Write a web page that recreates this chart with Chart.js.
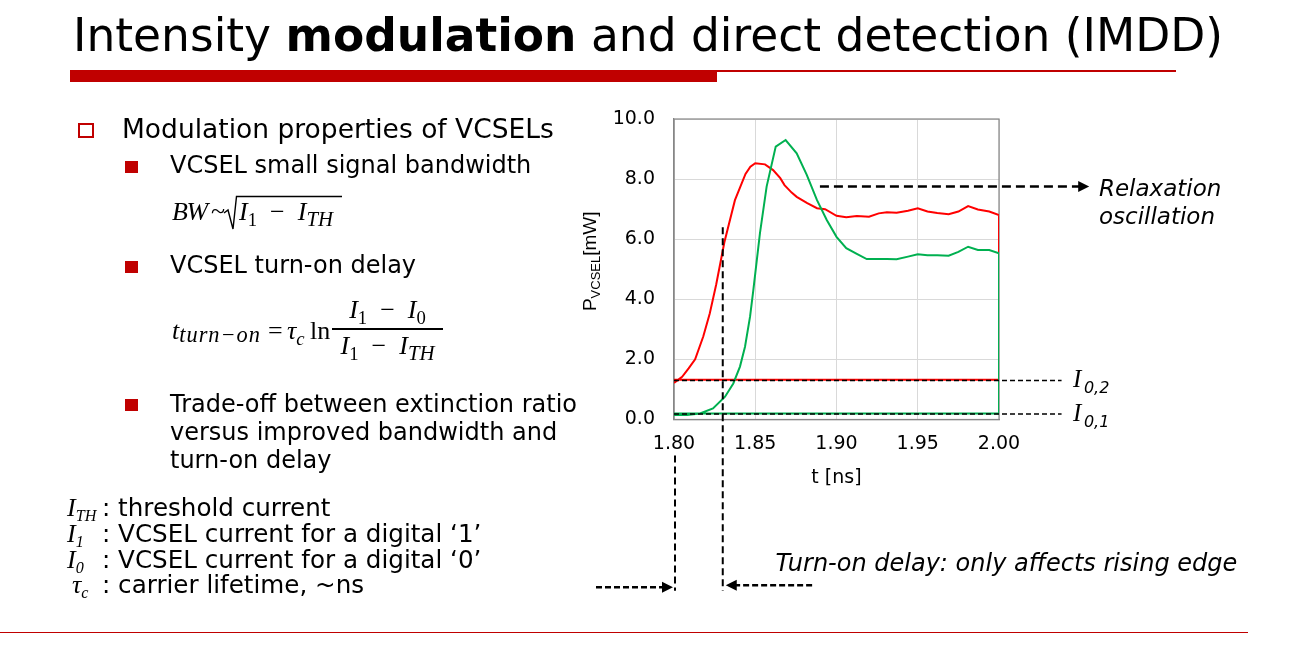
<!DOCTYPE html>
<html>
<head>
<meta charset="utf-8">
<title>Intensity modulation and direct detection (IMDD)</title>
<script src="https://cdn.jsdelivr.net/npm/chart.js@4.4.1/dist/chart.umd.min.js"></script>
<style>
  body { margin: 0; background: #fff; overflow: hidden; }
  #slide { position: relative; width: 1306px; height: 667px; font-family: "DejaVu Sans", Verdana, sans-serif; color: #000; }
  #chart { position: absolute; left: 0; top: 0; }
  .txt { position: absolute; white-space: nowrap; line-height: 1; }
  .m { font-family: "Liberation Serif", "Times New Roman", serif; font-style: italic; }
  .up { font-style: normal; }
  .sub { position: relative; top: 0.3em; font-size: 0.72em; }
  .op { margin: 0 0.5em; font-style: normal; }
  .bar { position: absolute; background: #c00000; }
  .sq { position: absolute; background: #c00000; width: 13px; height: 12px; }
</style>
</head>
<body>
<div id="slide">
  <canvas id="chart" width="1306" height="667"></canvas>

  <div class="txt" style="left:73px; top:13px; font-size:45.5px;">Intensity <b>modulation</b> and direct detection (IMDD)</div>
  <div class="bar" style="left:70px; top:70px; width:647px; height:12px;"></div>
  <div class="bar" style="left:717px; top:70px; width:459px; height:2px;"></div>
  <div class="bar" style="left:0; top:632px; width:1248px; height:1px;"></div>

  <div style="position:absolute; left:78px; top:123px; width:16px; height:15px; border:2px solid #c00000; box-sizing:border-box;"></div>
  <div class="txt" style="left:122px; top:116px; font-size:26.5px;">Modulation properties of VCSELs</div>

  <div class="sq" style="left:125px; top:161px;"></div>
  <div class="txt" style="left:170px; top:153px; font-size:24px;">VCSEL small signal bandwidth</div>

  <!-- BW ~ sqrt(I1 - ITH) -->
  <div class="txt m" style="left:172px; top:199px; font-size:26px; letter-spacing:-1.5px;">BW</div>
  <div class="txt m up" style="left:211px; top:198px; font-size:26px;">~</div>
  <svg style="position:absolute; left:0; top:0;" width="400" height="260">
    <polyline points="224,213 228,210 233,229 236.5,196.5 342,196.5" fill="none" stroke="#000" stroke-width="1.4"/>
  </svg>
  <div class="txt m" style="left:239px; top:199px; font-size:26px;">I<span class="sub up">1</span><span class="op">−</span>I<span class="sub" style="font-size:0.8em;">TH</span></div>

  <div class="sq" style="left:125px; top:261px;"></div>
  <div class="txt" style="left:170px; top:253px; font-size:24px;">VCSEL turn-on delay</div>

  <!-- t_turn-on = tau_c ln (I1 - I0)/(I1 - ITH) -->
  <div class="txt m" style="left:172px; top:318px; font-size:26px;">t<span style="position:relative; top:0.12em; font-size:0.86em; letter-spacing:1px;">turn−on</span></div>
  <div class="txt m up" style="left:268px; top:318px; font-size:26px;">=</div>
  <div class="txt m" style="left:287px; top:318px; font-size:26px;">τ<span class="sub">c</span></div>
  <div class="txt m up" style="left:310px; top:318px; font-size:26px;">ln</div>
  <div class="txt m" style="left:332px; top:297px; width:111px; text-align:center; font-size:26px;">I<span class="sub up">1</span><span class="op">−</span>I<span class="sub up">0</span></div>
  <div style="position:absolute; left:332px; top:328px; width:111px; height:1.5px; background:#000;"></div>
  <div class="txt m" style="left:332px; top:333px; width:111px; text-align:center; font-size:26px;">I<span class="sub up">1</span><span class="op">−</span>I<span class="sub" style="font-size:0.8em;">TH</span></div>

  <div class="sq" style="left:125px; top:399px;"></div>
  <div class="txt" style="left:170px; top:390px; font-size:24px; line-height:28px;">Trade-off between extinction ratio<br>versus improved bandwidth and<br>turn-on delay</div>

  <div class="txt m" style="left:67px; top:495px; font-size:26px;">I<span class="sub" style="font-size:0.62em;">TH</span></div>
  <div class="txt" style="left:102px; top:496px; font-size:24.6px;">: threshold current</div>
  <div class="txt m" style="left:67px; top:521px; font-size:26px;">I<span class="sub" style="font-size:0.62em;">1</span></div>
  <div class="txt" style="left:102px; top:522px; font-size:24.6px;">: VCSEL current for a digital ‘1’</div>
  <div class="txt m" style="left:67px; top:547px; font-size:26px;">I<span class="sub" style="font-size:0.62em;">0</span></div>
  <div class="txt" style="left:102px; top:548px; font-size:24.6px;">: VCSEL current for a digital ‘0’</div>
  <div class="txt m" style="left:72px; top:572px; font-size:26px;">τ<span class="sub" style="font-size:0.62em;">c</span></div>
  <div class="txt" style="left:102px; top:573px; font-size:24.6px;">: carrier lifetime, ~ns</div>
</div>

<script>
// optical power P_VCSEL [mW] vs time t [ns]
// red: higher "0" level (I0,2), green: lower "0" level (I0,1)
const tRed = [1.800, 1.805, 1.809, 1.813, 1.818, 1.822, 1.826, 1.831, 1.8375, 1.844, 1.847, 1.850, 1.856, 1.861, 1.8654, 1.868, 1.8724, 1.8755, 1.882, 1.888, 1.893, 1.900, 1.906, 1.9125, 1.920, 1.926, 1.931, 1.937, 1.944, 1.950, 1.956, 1.962, 1.969, 1.975, 1.981, 1.987, 1.994, 2.000, 2.000, 1.800];
const pRed = [1.22, 1.42, 1.70, 2.00, 2.76, 3.53, 4.50, 5.90, 7.30, 8.17, 8.41, 8.53, 8.49, 8.30, 8.03, 7.80, 7.55, 7.41, 7.20, 7.03, 7.00, 6.78, 6.73, 6.77, 6.75, 6.86, 6.90, 6.88, 6.95, 7.03, 6.92, 6.87, 6.83, 6.92, 7.10, 6.99, 6.92, 6.80, 1.32, 1.32];

const tGreen = [1.800, 1.808, 1.816, 1.824, 1.8314, 1.8365, 1.8406, 1.8437, 1.8468, 1.8488, 1.8529, 1.857, 1.8626, 1.8687, 1.8755, 1.8817, 1.888, 1.894, 1.900, 1.906, 1.9125, 1.9186, 1.925, 1.931, 1.937, 1.944, 1.950, 1.956, 1.962, 1.969, 1.975, 1.981, 1.987, 1.994, 2.000, 2.000, 1.800];
const pGreen = [0.15, 0.15, 0.20, 0.37, 0.76, 1.20, 1.76, 2.42, 3.42, 4.30, 6.20, 7.75, 9.08, 9.30, 8.86, 8.14, 7.30, 6.64, 6.08, 5.70, 5.51, 5.34, 5.34, 5.34, 5.33, 5.42, 5.50, 5.47, 5.47, 5.45, 5.58, 5.75, 5.64, 5.64, 5.53, 0.20, 0.20];

const xTicks = [1.80, 1.85, 1.90, 1.95, 2.00];
const yTicks = [0, 2, 4, 6, 8, 10];

// annotation levels (data units)
const levelI02 = 1.30;
const levelI01 = 0.18;
const levelRelax = 7.75;
const tStart = 1.80;
const tTurnOn = 1.83;

Chart.defaults.font.family = '"DejaVu Sans", Verdana, sans-serif';
Chart.defaults.color = '#000';

function toPoints(ts, ps) {
  return ts.map((t, i) => ({ x: t, y: ps[i] }));
}

function dashLine(ctx, x1, y1, x2, y2, w, dash) {
  ctx.save();
  ctx.lineWidth = w;
  ctx.setLineDash(dash);
  ctx.beginPath();
  ctx.moveTo(x1, y1);
  ctx.lineTo(x2, y2);
  ctx.stroke();
  ctx.restore();
}

function arrowHead(ctx, x, y, dir) {
  // dir = 1 points right, -1 points left
  ctx.beginPath();
  ctx.moveTo(x, y);
  ctx.lineTo(x - dir * 11, y - 5.5);
  ctx.lineTo(x - dir * 11, y + 5.5);
  ctx.closePath();
  ctx.fill();
}

const frame = {
  id: 'frame',
  beforeDatasetsDraw(chart) {
    const { ctx, chartArea: a } = chart;
    ctx.save();
    ctx.strokeStyle = '#868686';
    ctx.lineWidth = 1.2;
    ctx.strokeRect(a.left, a.top, a.right - a.left, a.bottom - a.top);
    ctx.restore();
  },
  afterDatasetsDraw(chart) {
    const { ctx } = chart;
    const xs = chart.scales.x, ys = chart.scales.y;
    const px = v => xs.getPixelForValue(v);
    const py = v => ys.getPixelForValue(v);
    ctx.save();
    ctx.strokeStyle = '#000';
    ctx.fillStyle = '#000';

    // "0" levels
    dashLine(ctx, px(tStart), py(levelI02), px(2.0385), py(levelI02), 1.5, [5, 3]);
    dashLine(ctx, px(tStart), py(levelI01), px(2.0385), py(levelI01), 1.5, [5, 3]);
    [[levelI02, '0,2'], [levelI01, '0,1']].forEach(([lv, s]) => {
      const bx = px(2.0455), by = py(lv) + 7;
      ctx.font = 'italic 25px "Liberation Serif", serif';
      ctx.fillText('I', bx, by);
      ctx.font = 'italic 16px "DejaVu Sans", sans-serif';
      ctx.fillText(s, bx + 11, by + 6);
    });

    // relaxation oscillation arrow
    dashLine(ctx, px(1.8898), py(levelRelax), px(2.050), py(levelRelax), 2.5, [9, 5]);
    arrowHead(ctx, px(2.0555), py(levelRelax), 1);
    ctx.font = 'italic 23px "DejaVu Sans", sans-serif';
    ctx.fillText('Relaxation', px(2.0615), py(levelRelax) + 9);
    ctx.fillText('oscillation', px(2.0615), py(levelRelax) + 37);

    // turn-on delay markers
    const yLow = py(-5.7), yArrow = py(-5.58);
    dashLine(ctx, px(tTurnOn), py(6.4), px(tTurnOn), yLow, 2, [7, 4]);
    dashLine(ctx, px(tStart) + 1, py(-1.2), px(tStart) + 1, yLow, 2, [7, 4]);
    dashLine(ctx, px(1.752), yArrow, px(tStart) - 9, yArrow, 2.5, [6, 3]);
    arrowHead(ctx, px(tStart) - 1, yArrow, 1);
    dashLine(ctx, px(1.885), yArrow - 2, px(tTurnOn) + 11, yArrow - 2, 2.5, [6, 3]);
    arrowHead(ctx, px(tTurnOn) + 3, yArrow - 2, -1);
    ctx.font = 'italic 24px "DejaVu Sans", sans-serif';
    ctx.fillText('Turn-on delay: only affects rising edge', px(1.8625), py(-5.05));

    // y axis title with subscript
    ctx.translate(xs.left - 85, (ys.top + ys.bottom) / 2 - 8);
    ctx.rotate(-Math.PI / 2);
    const fBig = '19px "Liberation Sans", Arial, sans-serif';
    const fSmall = '13px "Liberation Sans", Arial, sans-serif';
    ctx.font = fBig;
    const wP = ctx.measureText('P').width, wU = ctx.measureText('[mW]').width;
    ctx.font = fSmall;
    const wS = ctx.measureText('VCSEL').width;
    let x0 = -(wP + wS + wU) / 2;
    ctx.font = fBig;
    ctx.fillText('P', x0, 7);
    ctx.font = fSmall;
    ctx.fillText('VCSEL', x0 + wP, 11);
    ctx.font = fBig;
    ctx.fillText('[mW]', x0 + wP + wS, 7);
    ctx.restore();
  }
};

new Chart(document.getElementById('chart'), {
  type: 'scatter',
  data: {
    datasets: [
      {
        label: 'I0,2',
        data: toPoints(tRed, pRed),
        showLine: true,
        borderColor: '#ff0000',
        borderWidth: 2,
        pointRadius: 0,
        tension: 0,
        order: 1
      },
      {
        label: 'I0,1',
        data: toPoints(tGreen, pGreen),
        showLine: true,
        borderColor: '#00b050',
        borderWidth: 2,
        pointRadius: 0,
        tension: 0,
        order: 0
      }
    ]
  },
  options: {
    responsive: false,
    animation: false,
    layout: { padding: { left: 560, right: 307, top: 119, bottom: 172.5 } },
    plugins: { legend: { display: false }, tooltip: { enabled: false } },
    scales: {
      x: {
        type: 'linear',
        min: 1.8,
        max: 2.0,
        afterBuildTicks: s => { s.ticks = xTicks.map(v => ({ value: v })); },
        afterFit: s => { s.height = 75; },
        ticks: { callback: v => v.toFixed(2), font: { size: 19 }, color: '#000', padding: 13, maxRotation: 0, autoSkip: false },
        grid: { color: '#d9d9d9', lineWidth: 1, drawTicks: false },
        border: { color: '#868686', width: 1.2 },
        title: { display: true, text: 't [ns]', font: { size: 19 }, color: '#000', padding: { top: 4, bottom: 5 } }
      },
      y: {
        min: 0,
        max: 10,
        afterBuildTicks: s => { s.ticks = yTicks.map(v => ({ value: v })); },
        afterFit: s => { s.width = 114; },
        ticks: { callback: v => v.toFixed(1), font: { size: 19 }, color: '#000', padding: 19 },
        grid: { color: '#d9d9d9', lineWidth: 1, drawTicks: false },
        border: { color: '#868686', width: 1.2 }
      }
    }
  },
  plugins: [frame]
});
</script>
</body>
</html>
